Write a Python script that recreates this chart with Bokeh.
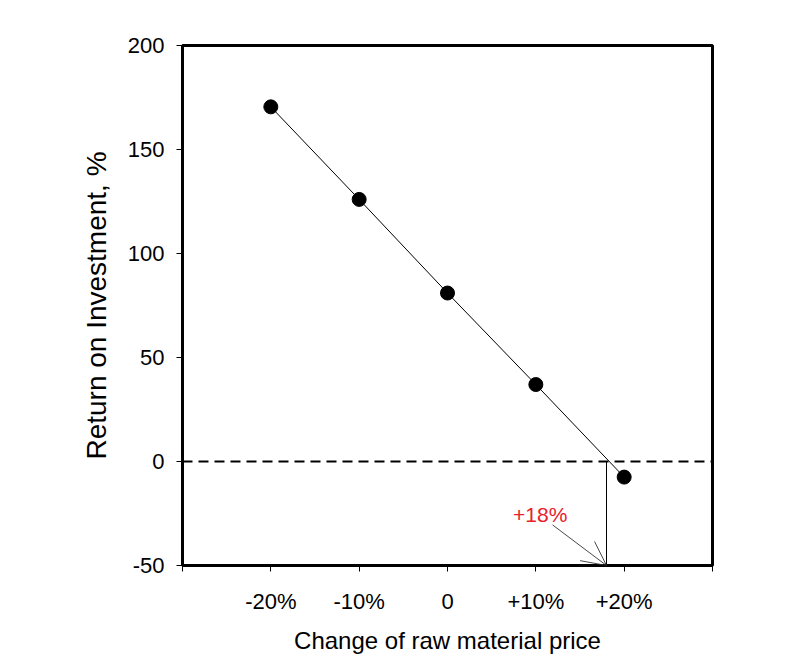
from bokeh.plotting import figure
from bokeh.models import FixedTicker, Range1d, Span, Arrow, OpenHead, Label
from bokeh.embed import file_html
from bokeh.resources import INLINE

price_change = [-20, -10, 0, 10, 20]
roi = [170.5, 126, 81, 37, -7.5]
breakeven = 18
x_ticks = [-30, -20, -10, 0, 10, 20, 30]
x_tick_labels = ["", "-20%", "-10%", "0", "+10%", "+20%", ""]
y_ticks = [-50, 0, 50, 100, 150, 200]
y_tick_labels = ["-50", "0", "50", "100", "150", "200"]

FONT = "Liberation Sans"

p = figure(width=780, height=660, output_backend="svg", toolbar_location=None,
           x_range=Range1d(-30, 30), y_range=Range1d(-50, 200),
           min_border_left=182, min_border_right=68, min_border_top=45, min_border_bottom=95)
p.grid.visible = False
p.outline_line_color = "black"
p.outline_line_width = 3
p.background_fill_color = "white"
p.border_fill_color = "white"

p.xaxis.ticker = FixedTicker(ticks=x_ticks)
p.xaxis.major_label_overrides = {t: l for t, l in zip(x_ticks, x_tick_labels)}
p.yaxis.ticker = FixedTicker(ticks=y_ticks)
p.yaxis.major_label_overrides = {t: l for t, l in zip(y_ticks, y_tick_labels)}
for ax in (p.xaxis, p.yaxis):
    ax.axis_line_color = None
    ax.major_tick_in = 0
    ax.major_tick_out = 6
    ax.major_tick_line_color = "black"
    ax.minor_tick_line_color = None
    ax.major_label_text_font = FONT
    ax.major_label_text_font_size = "22px"
    ax.major_label_text_color = "black"
    ax.axis_label_text_font = FONT
    ax.axis_label_text_font_style = "normal"
    ax.axis_label_text_color = "black"
p.xaxis.major_label_standoff = 17
p.yaxis.major_label_standoff = 12
p.xaxis.axis_label = "Change of raw material price"
p.xaxis.axis_label_text_font_size = "24px"
p.xaxis.axis_label_standoff = 10
p.yaxis.axis_label = "Return on Investment, %"
p.yaxis.axis_label_text_font_size = "28px"
p.yaxis.axis_label_standoff = 13

p.add_layout(Span(location=0, dimension="width", line_color="black",
                  line_width=2, line_dash="10 6"))
p.line(price_change, roi, line_color="black", line_width=1)
p.scatter(price_change, roi, size=14, color="black")
p.segment(x0=[breakeven], y0=[0], x1=[breakeven], y1=[-50], line_color="black", line_width=1)

p.add_layout(Arrow(end=OpenHead(size=24, line_width=0.9, line_color="#333333"),
                   x_start=11.9, y_start=-30.5, x_end=breakeven, y_end=-50,
                   line_color="#333333", line_width=0.9))
p.add_layout(Label(x=10.5, y=-25.5, text="+18%", text_color="#e8202a", text_font=FONT,
                   text_font_size="21px", text_align="center", text_baseline="middle"))

open("out.html", "w").write(file_html(p, INLINE))
